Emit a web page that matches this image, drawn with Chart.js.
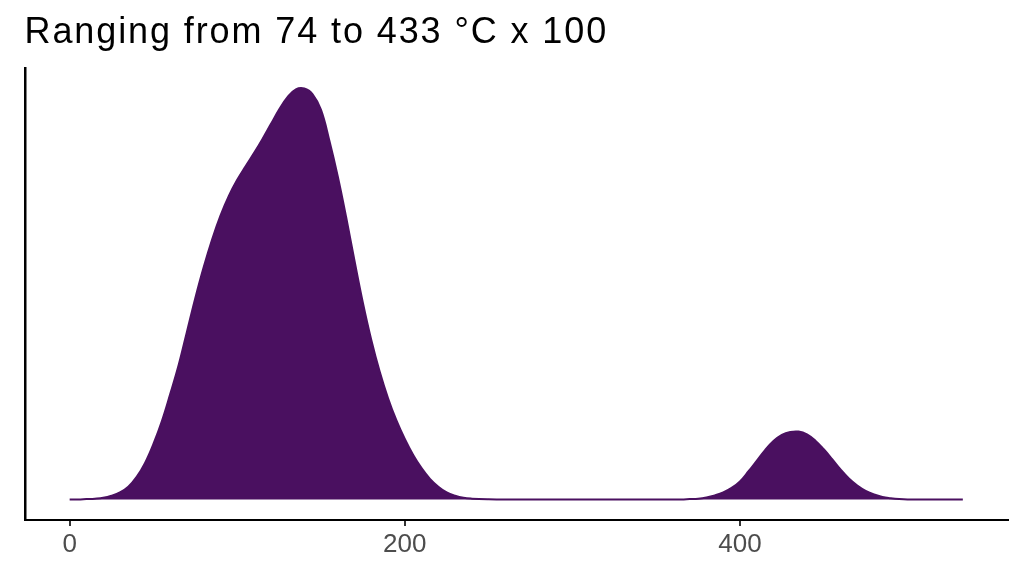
<!DOCTYPE html>
<html>
<head>
<meta charset="utf-8">
<script src="https://cdn.jsdelivr.net/npm/chart.js@4"></script>
<style>
  html, body { margin: 0; padding: 0; background: #ffffff; }
  #wrap { width: 1024px; height: 576px; position: relative; }
</style>
</head>
<body>
<div id="wrap"><canvas id="c"></canvas></div>
<script>
const titleText = "Ranging from 74 to 433 \u00B0C x 100";
const xTicks = [0, 200, 400];
const densityX = [0, 5, 10, 15, 20, 25, 30, 35, 40, 45, 50, 55, 60, 65, 70, 75, 80, 85, 90, 95, 100, 105, 110, 115, 120, 125, 130, 135, 140, 145, 150, 155, 160, 165, 170, 175, 180, 185, 190, 195, 200, 205, 210, 215, 220, 225, 230, 235, 240, 250, 260, 300, 340, 365, 370, 375, 380, 385, 390, 395, 400, 405, 410, 415, 420, 425, 430, 435, 440, 445, 450, 455, 460, 465, 470, 475, 480, 485, 490, 495, 500, 510, 533];
const densityY = [0.000, 0.000, 0.001, 0.002, 0.004, 0.009, 0.017, 0.031, 0.055, 0.089, 0.135, 0.190, 0.256, 0.326, 0.408, 0.490, 0.565, 0.632, 0.690, 0.738, 0.777, 0.810, 0.842, 0.876, 0.912, 0.948, 0.978, 0.997, 0.999, 0.985, 0.947, 0.872, 0.785, 0.686, 0.580, 0.478, 0.388, 0.311, 0.246, 0.192, 0.147, 0.108, 0.076, 0.050, 0.031, 0.017, 0.009, 0.004, 0.002, 0.0005, 0.000, 0.000, 0.000, 0.000, 0.001, 0.002, 0.005, 0.010, 0.017, 0.028, 0.044, 0.068, 0.094, 0.120, 0.142, 0.157, 0.164, 0.165, 0.158, 0.143, 0.122, 0.098, 0.073, 0.051, 0.034, 0.021, 0.012, 0.006, 0.003, 0.001, 0.000, 0.000, 0.000];

const points = densityX.map((x, i) => ({ x: x, y: densityY[i] }));
const xMinData = Math.min(...densityX), xMaxData = Math.max(...densityX);
const xPad = (xMaxData - xMinData) * 0.05;
const yMaxData = Math.max(...densityY);
const yPad = yMaxData * 0.05;

const titlePlugin = {
  id: 'ggTitle',
  afterDraw(chart) {
    const ctx = chart.ctx;
    ctx.save();
    ctx.fillStyle = '#000000';
    ctx.font = '36px "Liberation Sans", Arial, sans-serif';
    try { ctx.letterSpacing = '1.9px'; } catch (e) {}
    ctx.textBaseline = 'alphabetic';
    ctx.textAlign = 'left';
    ctx.fillText(titleText, 24.5, 43.3);
    ctx.restore();
  }
};

new Chart(document.getElementById('c'), {
  type: 'line',
  data: {
    datasets: [{
      data: points,
      borderColor: '#4a1060',
      backgroundColor: '#4a1060',
      borderWidth: 2,
      fill: 'origin',
      pointRadius: 0,
      tension: 0.4
    }]
  },
  options: {
    responsive: true,
    maintainAspectRatio: false,
    animation: false,
    devicePixelRatio: 1,
    layout: { padding: { left: 25, right: 16.5, top: 68, bottom: 0 } },
    plugins: { legend: { display: false }, tooltip: { enabled: false }, title: { display: false } },
    scales: {
      x: {
        type: 'linear',
        min: xMinData - xPad,
        max: xMaxData + xPad,
        afterBuildTicks: (scale) => { scale.ticks = xTicks.map(v => ({ value: v })); },
        afterFit: (scale) => { scale.height = 56; },
        border: { display: true, color: '#000000', width: 2 },
        grid: { display: true, drawOnChartArea: false, drawTicks: true, tickLength: 6, color: '#333333', lineWidth: 2 },
        ticks: {
          color: '#4d4d4d',
          padding: 3,
          maxRotation: 0,
          font: { family: '"Liberation Sans", Arial, sans-serif', size: 26 },
          callback: (v) => String(v)
        }
      },
      y: {
        min: -yPad,
        max: yMaxData + yPad,
        afterFit: (scale) => { scale.width = 0; },
        border: { display: true, color: '#000000', width: 2.5 },
        grid: { display: false },
        ticks: { display: false }
      }
    }
  },
  plugins: [titlePlugin]
});
</script>
</body>
</html>
